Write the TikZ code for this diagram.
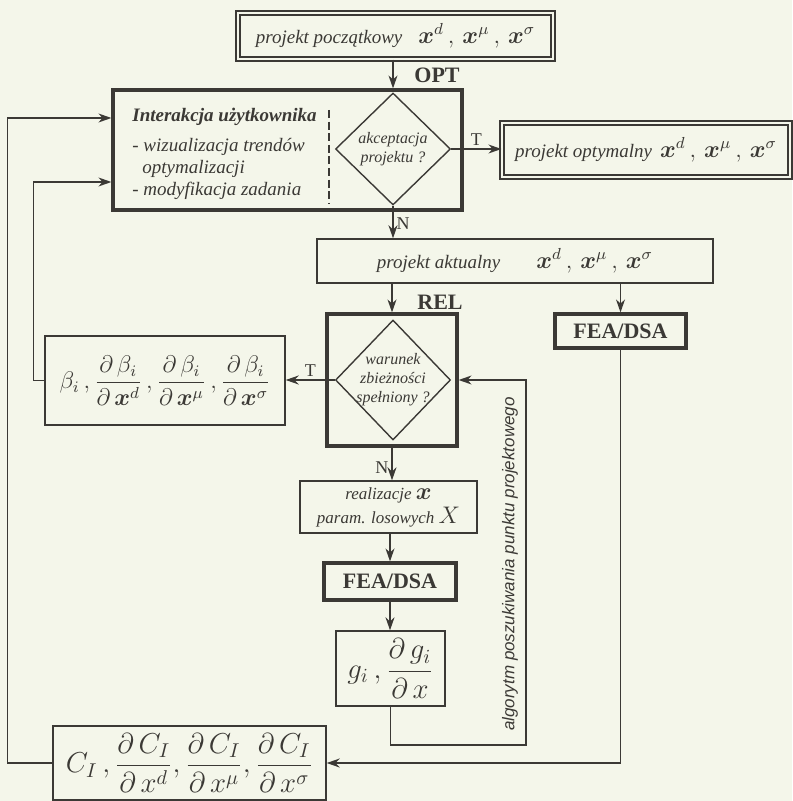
\documentclass[tikz,border=0pt]{standalone}
\usepackage{amsmath}
\usepackage{fontspec}
\usepackage{tikz}
\usetikzlibrary{shapes.geometric, arrows.meta, positioning, calc}
\setmainfont{Liberation Serif}
\newfontfamily\algfont{Liberation Sans}
\definecolor{ink}{HTML}{3B3935}
\definecolor{paper}{HTML}{F4F6EA}
\newcommand{\xvec}{\boldsymbol{x}}
\newcommand{\xtriple}{\ensuremath{\xvec^{d}\,,\,\xvec^{\mu}\,,\,\xvec^{\sigma}}}

\begin{document}
\begin{tikzpicture}[
    x=0.5pt, y=-0.5pt,
    box/.style={rectangle, draw=ink, line width=0.7pt, fill=paper, text=ink, align=center, inner sep=2pt},
    thickbox/.style={box, line width=1.6pt},
    dblbox/.style={box, line width=0.6pt, double=paper, double distance=1.4pt},
    decision/.style={diamond, draw=ink, line width=0.7pt, text=ink, align=center, inner sep=0pt, font=\fontsize{8}{9.5}\selectfont\itshape},
    arrow/.style={-{Stealth[length=6.5pt, width=4.5pt]}, line width=0.7pt, ink},
    tag/.style={text=ink, font=\fontsize{11}{13}\selectfont\bfseries},
    yesno/.style={text=ink, font=\fontsize{9}{11}\selectfont, inner sep=1.5pt}
]

% Canvas
\useasboundingbox (0,0) rectangle (792,801);
\fill[paper] (0,0) rectangle (792,801);

% Optimization loop
\node[dblbox, minimum width=157.5pt, minimum height=23pt, font=\fontsize{9.5}{11}\selectfont\itshape] (start) at (395.5,36) {projekt początkowy\hspace{8pt}{\upshape\large\xtriple}};
\node[thickbox, minimum width=174.5pt, minimum height=60pt] (inter) at (287.5,150) {};
\node[decision, minimum width=57.5pt, minimum height=56pt] (accept) at (393,149) {akceptacja\\projektu ?};
\node[anchor=west, align=left, inner sep=0pt, text=ink, font=\fontsize{9.5}{11}\selectfont\itshape] (intertext) at (132,154) {\textbf{Interakcja użytkownika}\\[4pt]- wizualizacja trendów\\\hspace*{5pt}optymalizacji\\- modyfikacja zadania};
\draw[ink, line width=0.7pt, dash pattern=on 4pt off 1.8pt] (329,110) -- (329,203);
\node[dblbox, minimum width=144pt, minimum height=27pt, font=\fontsize{9.5}{11}\selectfont\itshape] (opt) at (646,150) {projekt optymalny\hspace{4pt}{\upshape\large\xtriple}};
\node[box, minimum width=198pt, minimum height=22pt, font=\fontsize{9.5}{11}\selectfont\itshape] (akt) at (515,261) {projekt aktualny\hspace{18pt}{\upshape\large\xtriple}};
\node[tag] (optlbl) at (437,75) {OPT};

% Reliability loop
\node[thickbox, minimum width=65pt, minimum height=66pt] (relbox) at (392,380) {};
\node[decision, minimum width=57.5pt, minimum height=60pt, inner sep=-1.5pt] (warunek) at (393,380) {warunek\\zbieżności\\spełniony ?};
\node[tag] (rellbl) at (440,302) {REL};
\node[thickbox, minimum width=65.5pt, minimum height=17pt, font=\fontsize{11}{13}\selectfont\bfseries] (fea1) at (620.5,331) {FEA/DSA};
\node[box, minimum width=120pt, minimum height=44.5pt, font=\large] (beta) at (165,380.5) {$\beta_i\,,\dfrac{\partial\,\beta_i}{\partial\,\xvec^{d}}\,,\dfrac{\partial\,\beta_i}{\partial\,\xvec^{\mu}}\,,\dfrac{\partial\,\beta_i}{\partial\,\xvec^{\sigma}}$};
\node[box, minimum width=88.5pt, minimum height=26pt, font=\fontsize{8.5}{12}\selectfont\itshape] (real) at (388.5,507) {realizacje {\upshape\large$\xvec$}\\param. losowych {\upshape\large$X$}};
\node[thickbox, minimum width=66pt, minimum height=18.5pt, font=\fontsize{11}{13}\selectfont\bfseries] (fea2) at (390,581.5) {FEA/DSA};
\node[box, minimum width=54.5pt, minimum height=37.5pt, font=\Large] (gbox) at (390.5,668.5) {$g_i\,,\dfrac{\partial\,g_i}{\partial\,x}$};
\node[box, minimum width=136.5pt, minimum height=37pt, font=\Large] (cbox) at (189.5,763) {$C_I\,,\dfrac{\partial\,C_I}{\partial\,x^{d}},\dfrac{\partial\,C_I}{\partial\,x^{\mu}},\dfrac{\partial\,C_I}{\partial\,x^{\sigma}}$};
\node[rotate=90, text=ink, font=\algfont\itshape\fontsize{8.5}{10}\selectfont] (algtext) at (510,564) {algorytm poszukiwania punktu projektowego};
\coordinate (loopc) at (526,745);

% Arrows
\draw[arrow] (accept |- start.south) -- (accept |- inter.north);
\draw[arrow] (accept.east) -- (accept.east -| opt.west) node[yesno, midway, above] {T};
\draw[arrow] (accept.south) -- (accept.south |- akt.north) node[yesno, pos=0.55, right] {N};
\draw[arrow] (relbox.north |- akt.south) -- (relbox.north);
\draw[arrow] (fea1.north |- akt.south) -- (fea1.north);
\draw[arrow] (warunek.west) -- (warunek.west -| beta.east) node[yesno, midway, above] {T};
\draw[arrow] (beta.west) -- ++(-11,0) |- ($(inter.west)+(0,32)$);
\draw[arrow] (relbox.south) -- (relbox.south |- real.north) node[yesno, pos=0.6, left] {N};
\draw[arrow] (fea2.north |- real.south) -- (fea2.north);
\draw[arrow] (fea2.south) -- (fea2.south |- gbox.north);
\draw[arrow] (gbox.south) |- (loopc) |- (relbox.east);
\draw[arrow] (fea1.south) |- (cbox.east);
\draw[arrow] (cbox.west) -- ++(-45,0) |- ($(inter.west)+(0,-32)$);

\end{tikzpicture}
\end{document}
